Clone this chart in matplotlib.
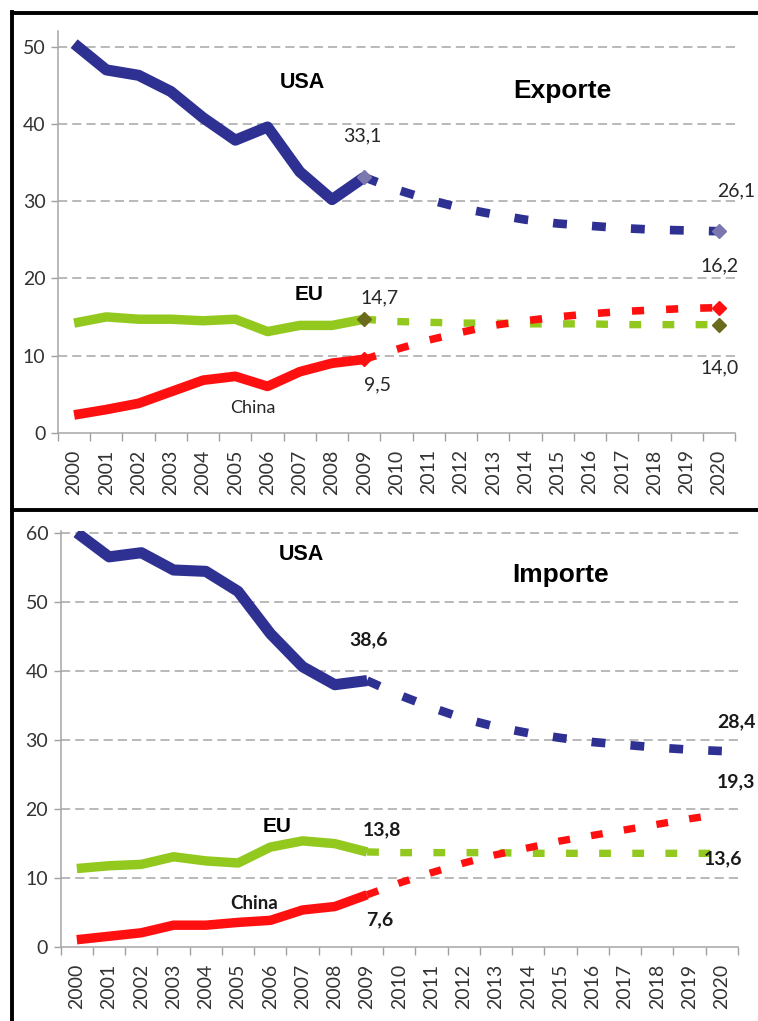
import matplotlib
matplotlib.use("Agg")
import matplotlib.pyplot as plt
from matplotlib.lines import Line2D

W, H = 758, 1021

years = [str(y) for y in range(2000, 2021)]

# Exporte (top panel), 2000-2009 actual, 2009-2020 forecast
exp_usa = [50.4, 47.0, 46.3, 44.2, 40.8, 37.9, 39.6, 33.8, 30.2, 33.1]
exp_usa_fc = [33.1, 31.5, 30.2, 29.1, 28.3, 27.6, 27.1, 26.8, 26.5, 26.3, 26.2, 26.1]
exp_eu = [14.2, 15.0, 14.7, 14.7, 14.5, 14.7, 13.1, 13.9, 13.9, 14.7]
exp_eu_fc = [14.7, 14.4, 14.3, 14.2, 14.2, 14.1, 14.1, 14.1, 14.0, 14.0, 14.0, 14.0]
exp_china = [2.3, 3.0, 3.8, 5.3, 6.8, 7.3, 6.0, 7.9, 9.0, 9.5]
exp_china_fc = [9.5, 10.8, 12.0, 13.0, 13.9, 14.5, 15.0, 15.4, 15.7, 15.9, 16.1, 16.2]

# Importe (bottom panel)
imp_usa = [60.0, 56.5, 57.1, 54.6, 54.4, 51.5, 45.4, 40.6, 38.0, 38.6]
imp_usa_fc = [38.6, 36.5, 34.7, 33.1, 31.9, 31.0, 30.3, 29.7, 29.3, 28.9, 28.6, 28.4]
imp_eu = [11.4, 11.8, 12.0, 13.1, 12.5, 12.2, 14.5, 15.4, 15.0, 13.8]
imp_eu_fc = [13.8, 13.7, 13.7, 13.7, 13.7, 13.6, 13.6, 13.6, 13.6, 13.6, 13.6, 13.6]
imp_china = [1.1, 1.6, 2.1, 3.2, 3.2, 3.6, 3.9, 5.4, 5.9, 7.6]
imp_china_fc = [7.6, 9.3, 10.8, 12.2, 13.4, 14.4, 15.4, 16.2, 17.0, 17.8, 18.6, 19.3]

NAVY = '#2E3192'
GREEN = '#93C91E'
RED = '#FF1010'
LBL = 'Lato'


def px_axes(fig, left, right, y0, ytop):
    # pixel box -> figure fraction
    return fig.add_axes([left / W, 1 - y0 / H, (right - left) / W, (y0 - ytop) / H])


def panel(ax, series, ymax, yticks, diamonds):
    x_act = list(range(10))
    x_fc = list(range(9, 21))
    for act, fc, col, lw, dcol in series:
        ax.plot(x_act, act, color=col, lw=lw, solid_capstyle='butt', solid_joinstyle='round', zorder=3)
        ax.plot(x_fc, fc, color=col, lw=lw * 0.78, dashes=(1.6, 2.9), dash_capstyle='butt', zorder=3)
        if diamonds:
            ax.plot([9, 20], [act[-1], fc[-1]], ls='none', marker='D', ms=7, color=dcol, zorder=4)

    ax.set_xlim(-0.5, 20.5)
    ax.set_ylim(0, ymax)
    ax.set_yticks(yticks)
    ax.set_xticks(range(21))
    ax.set_xticklabels(years, rotation=90)
    ax.set_xticks([i - 0.5 for i in range(22)], minor=True)
    ax.tick_params(axis='x', which='major', length=0, pad=12, labelsize=14, labelcolor='#333333')
    ax.tick_params(axis='x', which='minor', length=6, color='#a0a0a0', width=1)
    ax.tick_params(axis='y', length=5, color='#a0a0a0', width=1, pad=4, labelsize=14, labelcolor='#333333')
    for lab in ax.get_xticklabels() + ax.get_yticklabels():
        lab.set_fontfamily(LBL)
    for y in yticks[1:]:
        ax.axhline(y, color='#a6a6a6', lw=1.1, dashes=(6, 3.3), zorder=1)
    for s in ['top', 'right']:
        ax.spines[s].set_visible(False)
    for s in ['left', 'bottom']:
        ax.spines[s].set_color('#a6a6a6')
        ax.spines[s].set_linewidth(1.1)


fig = plt.figure(figsize=(W / 100, H / 100), dpi=100)

# ---- Exporte
ax1 = px_axes(fig, 58, 735, 432.7, 31.3)
panel(ax1,
      [(exp_usa, exp_usa_fc, NAVY, 8.0, '#7B78B0'),
       (exp_eu, exp_eu_fc, GREEN, 6.8, '#6B6B1E'),
       (exp_china, exp_china_fc, RED, 7.0, RED)],
      52, [0, 10, 20, 30, 40, 50], True)

ax1.text(7.07, 44.6, 'USA', fontsize=15.5, fontweight='bold', family='Liberation Sans', ha='center')
ax1.text(15.13, 43.4, 'Exporte', fontsize=19, fontweight='bold', family='Liberation Sans', ha='center')
ax1.text(7.28, 17.2, 'EU', fontsize=15, fontweight='bold', family='Liberation Sans', ha='center')
ax1.text(5.55, 2.5, 'China', fontsize=13, family=LBL, color='#262626', ha='center')
for x, y, s, ha in [(8.94, 37.7, '33,1', 'center'), (21.13, 30.6, '26,1', 'right'),
                    (20.03, 20.9, '16,2', 'center'), (9.48, 16.8, '14,7', 'center'),
                    (9.41, 5.5, '9,5', 'center'), (20.02, 7.7, '14,0', 'center')]:
    ax1.text(x, y, s, fontsize=14, family=LBL, color='#262626', ha=ha, clip_on=False)

# ---- Importe
ax2 = px_axes(fig, 60.7, 738, 947.3, 530.6)
panel(ax2,
      [(imp_usa, imp_usa_fc, NAVY, 8.0, NAVY),
       (imp_eu, imp_eu_fc, GREEN, 6.8, GREEN),
       (imp_china, imp_china_fc, RED, 6.8, RED)],
      60.3, [0, 10, 20, 30, 40, 50, 60], False)

ax2.text(6.97, 56.0, 'USA', fontsize=15.5, fontweight='bold', family='Liberation Sans', ha='center')
ax2.text(15.0, 52.8, 'Importe', fontsize=19, fontweight='bold', family='Liberation Sans', ha='center')
ax2.text(6.2, 16.7, 'EU', fontsize=15, fontweight='bold', family='Liberation Sans', ha='center')
ax2.text(5.49, 5.6, 'China', fontsize=13.5, fontweight='bold', family=LBL, color='#1a1a1a', ha='center')
for x, y, s, ha in [(9.04, 43.7, '38,6', 'center'), (21.04, 31.9, '28,4', 'right'),
                    (21.04, 23.2, '19,3', 'right'), (9.46, 16.25, '13,8', 'center'),
                    (9.38, 3.2, '7,6', 'center'), (20.02, 12.0, '13,6', 'center')]:
    ax2.text(x, y, s, fontsize=14, fontweight='bold', family=LBL, color='#1a1a1a', ha=ha, clip_on=False)

# black frame lines of the composite
for xs, ys in [([12, W], [13, 13]), ([12, 12], [12, H]), ([12, W], [510, 510])]:
    fig.add_artist(Line2D([x / W for x in xs], [1 - y / H for y in ys], color='black', lw=2.8,
                          solid_capstyle='projecting'))

fig.savefig('out.png', dpi=100, facecolor='white')
